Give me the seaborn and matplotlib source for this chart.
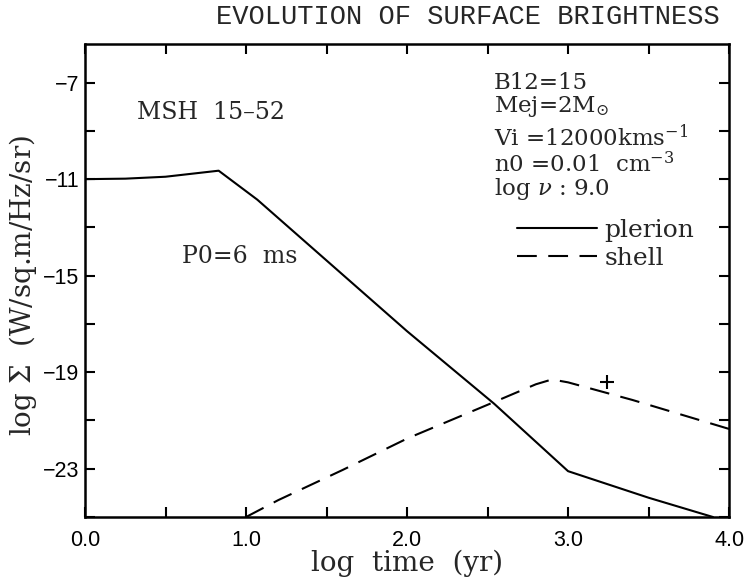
import numpy as np
import pandas as pd
import matplotlib
matplotlib.use("Agg")
import matplotlib.pyplot as plt
from matplotlib.ticker import MultipleLocator, FormatStrFormatter
import seaborn as sns

# values
plerion_t = [0.0, 0.25, 0.5, 0.83, 1.07, 2.0, 2.54, 3.0, 3.5, 3.9]
plerion_s = [-11.0, -10.98, -10.9, -10.65, -11.85, -17.3, -20.3, -23.1, -24.2, -25.0]

shell_t = [1.0, 1.2, 1.6, 2.0, 2.5, 2.8, 2.9, 3.0, 3.4, 3.7, 4.0]
shell_s = [-25.0, -24.3, -23.05, -21.75, -20.35, -19.5, -19.3, -19.42, -20.15, -20.75, -21.35]

plus_t = [3.24]
plus_s = [-19.4]

y_ticks = [-7, -11, -15, -19, -23]

params = ["B12=15", r"Mej=2M$_{\odot}$", r"Vi =12000kms$^{-1}$",
          r"n0 =0.01  cm$^{-3}$", r"log $\nu$ : 9.0"]

df = pd.concat([
    pd.DataFrame({"log_t": plerion_t, "log_sigma": plerion_s, "curve": "plerion"}),
    pd.DataFrame({"log_t": shell_t, "log_sigma": shell_s, "curve": "shell"}),
])

sns.set_style("ticks")
plt.rcParams["font.family"] = ["DejaVu Serif"]
plt.rcParams["mathtext.fontset"] = "dejavuserif"

fig, ax = plt.subplots(figsize=(7.47, 5.85), dpi=100)
fig.subplots_adjust(left=0.1138, right=0.976, bottom=0.1162, top=0.9248)

sns.lineplot(data=df, x="log_t", y="log_sigma", style="curve",
             dashes={"plerion": "", "shell": (9.5, 5.5)},
             color="black", lw=1.5, sort=False, estimator=None, ax=ax)
sns.scatterplot(x=plus_t, y=plus_s, marker="+", s=110, color="black",
                linewidth=1.5, ax=ax)

ax.set_xlim(0, 4)
ax.set_ylim(-25, -5.4)

ax.xaxis.set_major_locator(MultipleLocator(1.0))
ax.xaxis.set_minor_locator(MultipleLocator(0.5))
ax.xaxis.set_major_formatter(FormatStrFormatter("%.1f"))
ax.set_yticks(y_ticks)
ax.yaxis.set_minor_locator(MultipleLocator(2, offset=1))

ax.tick_params(which="both", direction="in", top=True, right=True,
               length=7, width=1.5, colors="black")
ax.tick_params(axis="x", pad=9)
ax.tick_params(axis="y", pad=4)
for lab in ax.get_xticklabels() + ax.get_yticklabels():
    lab.set_fontfamily("Liberation Sans")
    lab.set_fontsize(15.5)

for sp in ax.spines.values():
    sp.set_linewidth(1.8)
    sp.set_color("black")

ax.set_xlabel("log  time  (yr)", fontsize=20)
ax.set_ylabel(r"log $\Sigma$  (W/sq.m/Hz/sr)", fontsize=20)
ax.xaxis.set_label_coords(0.5, -0.068)
ax.yaxis.set_label_coords(-0.072, 0.49)

fig.text(0.627, 0.971, "EVOLUTION OF SURFACE BRIGHTNESS",
         family="Liberation Mono", fontsize=19.5, ha="center", va="center")

ax.text(0.32, -8.24, "MSH  15–52", fontsize=17, va="center")
ax.text(0.6, -14.2, "P0=6  ms", fontsize=17, va="center")

param_y = [-7.0, -8.0, -9.3, -10.4, -11.4]
for txt, yy in zip(params, param_y):
    ax.text(2.54, yy, txt, fontsize=16.5, va="center")

sns.move_legend(ax, "upper left", bbox_to_anchor=(0.671, 0.631),
                frameon=False, title=None, borderpad=0, borderaxespad=0,
                handlelength=3.2, handletextpad=0.3, labelspacing=0.2,
                fontsize=18)

fig.savefig("out.png", dpi=100)
